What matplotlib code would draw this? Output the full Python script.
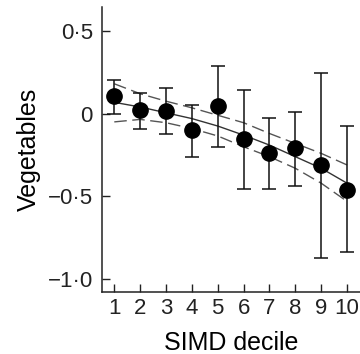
import numpy as np
import matplotlib
matplotlib.use("Agg")
import matplotlib.pyplot as plt

plt.rcParams['font.family'] = ['Liberation Sans', 'DejaVu Sans']

# mean score per SIMD decile with 95% CI
decile = [1, 2, 3, 4, 5, 6, 7, 8, 9, 10]
veg_mean = [0.105, 0.02, 0.015, -0.10, 0.045, -0.155, -0.24, -0.21, -0.31, -0.46]
veg_upper = [0.205, 0.125, 0.155, 0.052, 0.285, 0.14, -0.025, 0.01, 0.245, -0.075]
veg_lower = [0.0, -0.09, -0.125, -0.26, -0.20, -0.455, -0.455, -0.435, -0.87, -0.835]

# fitted trend and its confidence band
fit_x = [0.8, 1, 2, 3, 4, 5, 6, 7, 8, 9, 10, 10.2]
fit_y = [0.075, 0.068, 0.04, 0.005, -0.03, -0.075, -0.13, -0.19, -0.26, -0.33, -0.42, -0.44]
band_x = [1, 2, 3, 4, 5, 6, 7, 8, 9, 10]
band_hi = [0.18, 0.12, 0.075, 0.035, -0.01, -0.055, -0.12, -0.18, -0.24, -0.31]
band_lo = [-0.05, -0.035, -0.055, -0.09, -0.135, -0.20, -0.26, -0.33, -0.42, -0.53]

yticks = [0.5, 0, -0.5, -1.0]
ytick_labels = ['0\u00b75', '0', '\u22120\u00b75', '\u22121\u00b70']

fig = plt.figure(figsize=(3.6, 3.54), dpi=100)
ax = fig.add_axes([0.283, 0.175, 0.717, 0.805])

ax.plot(fit_x, fit_y, color='#333333', lw=1.0)
ax.plot(band_x, band_hi, color='#555555', lw=1.0, dashes=(9, 4))
ax.plot(band_x, band_lo, color='#555555', lw=1.0, dashes=(9, 4))

m = np.array(veg_mean)
err = [m - np.array(veg_lower), np.array(veg_upper) - m]
ax.errorbar(decile, veg_mean, yerr=err, fmt='o', color='black', ms=11,
            ecolor='#111111', elinewidth=1.1, capsize=4.7, capthick=1.1)

ax.set_xlim(0.52, 10.5)
ax.set_ylim(-1.077, 0.643)
ax.set_xticks(decile)
ax.set_yticks(yticks)
ax.set_yticklabels(ytick_labels)
for s in ['top', 'right']:
    ax.spines[s].set_visible(False)
for s in ['left', 'bottom']:
    ax.spines[s].set_linewidth(1.1)
    ax.spines[s].set_color('#222222')
ax.tick_params(direction='in', length=6, width=1.0, labelsize=16, colors='#222222')
ax.tick_params(axis='y', pad=6.5)
ax.tick_params(axis='x', pad=4)
ax.set_xlabel('SIMD decile', fontsize=18, labelpad=9)
ax.set_ylabel('Vegetables', fontsize=18, labelpad=5)

fig.savefig('out.png', dpi=100)
